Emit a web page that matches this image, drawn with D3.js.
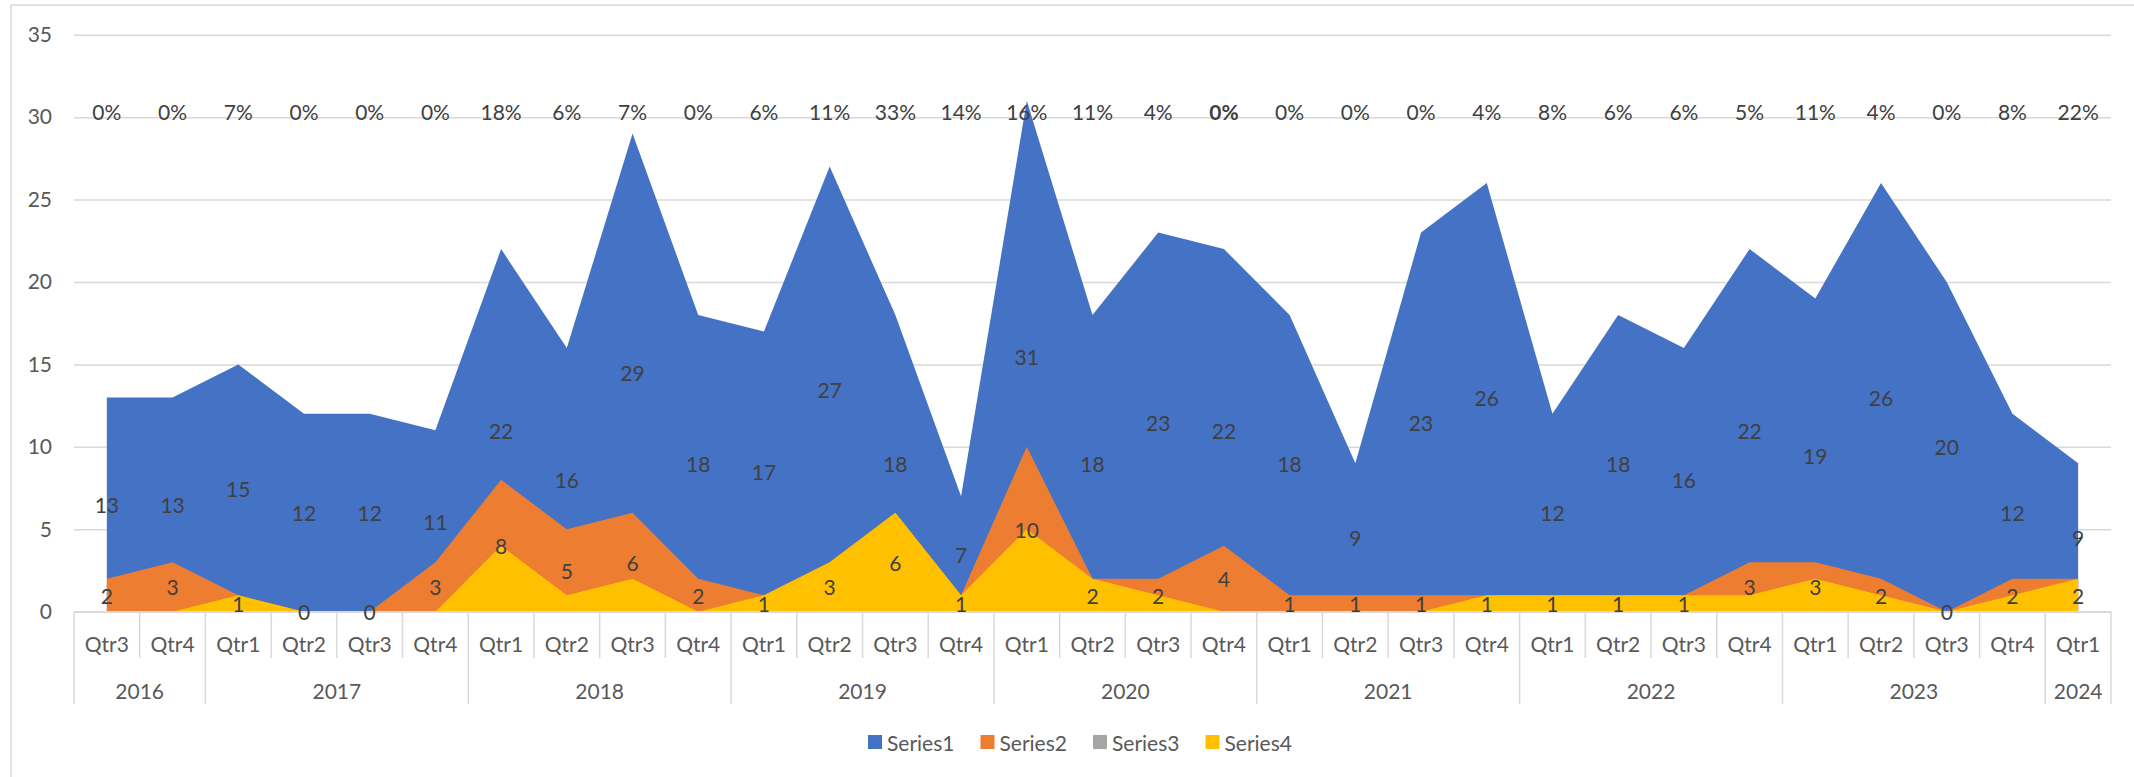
<!DOCTYPE html>
<html>
<head>
<meta charset="utf-8">
<script src="https://cdn.jsdelivr.net/npm/d3@7"></script>
<style>
  html, body { margin: 0; padding: 0; background: #ffffff; }
  svg { display: block; }
  text { font-family: Lato, "Open Sans", sans-serif; }
</style>
</head>
<body>
<svg id="chart" width="2134" height="777"></svg>
<script>
// ---- data ----
const quarters = ["Qtr3","Qtr4",
  "Qtr1","Qtr2","Qtr3","Qtr4",
  "Qtr1","Qtr2","Qtr3","Qtr4",
  "Qtr1","Qtr2","Qtr3","Qtr4",
  "Qtr1","Qtr2","Qtr3","Qtr4",
  "Qtr1","Qtr2","Qtr3","Qtr4",
  "Qtr1","Qtr2","Qtr3","Qtr4",
  "Qtr1","Qtr2","Qtr3","Qtr4",
  "Qtr1"];
const yearLabels = ["2016","2017","2018","2019","2020","2021","2022","2023","2024"];
const yearCounts = [2,4,4,4,4,4,4,4,1];

const series1 = [13,13,15,12,12,11,22,16,29,18,17,27,18,7,31,18,23,22,18,9,23,26,12,18,16,22,19,26,20,12,9];
const series2 = [2,3,1,0,0,3,8,5,6,2,1,3,6,1,10,2,2,4,1,1,1,1,1,1,1,3,3,2,0,2,2];
const series3 = ["0%","0%","7%","0%","0%","0%","18%","6%","7%","0%","6%","11%","33%","14%","16%","11%","4%","0%","0%","0%","0%","4%","8%","6%","6%","5%","11%","4%","0%","8%","22%"];
const series4 = [0,0,1,0,0,0,4,1,2,0,1,3,6,1,5,2,1,0,0,0,0,1,1,1,1,1,2,1,0,1,2];
const boldPercentIndex = [17];

const yTicks = [0,5,10,15,20,25,30,35];
const seriesNames = ["Series1","Series2","Series3","Series4"];
const seriesColors = ["#4472C4","#ED7D31","#A5A5A5","#FFC000"];

// ---- layout ----
const svg = d3.select("#chart");
const plotLeft = 74, plotRight = 2111, plotTop = 34.7, plotBottom = 611.7;
const fs = "21px";

svg.append("rect")
  .attr("x", 11).attr("y", 5).attr("width", 2160).attr("height", 820)
  .attr("fill", "none").attr("stroke", "#d9d9d9").attr("stroke-width", 1.5);

const x = d3.scaleBand().domain(d3.range(quarters.length)).range([plotLeft, plotRight]).paddingInner(0).paddingOuter(0);
const cx = i => x(i) + x.bandwidth() / 2;
const y = d3.scaleLinear().domain([0, 35]).range([plotBottom, plotTop]);

// gridlines + y labels
const yAxis = d3.axisLeft(y).tickValues(yTicks).tickSizeInner(-(plotRight - plotLeft)).tickSizeOuter(0).tickPadding(22);
const gy = svg.append("g").attr("transform", `translate(${plotLeft},0)`).call(yAxis);
gy.select(".domain").remove();
gy.selectAll(".tick line").attr("stroke", "#d9d9d9").attr("stroke-width", 1.5);
gy.selectAll(".tick text").attr("fill", "#595959").style("font-size", fs).style("font-family", "Lato, sans-serif");

// areas
const area = d3.area().x((d, i) => cx(i)).y0(y(0)).y1(d => y(d));
svg.append("path").datum(series1).attr("d", area).attr("fill", seriesColors[0]);
svg.append("path").datum(series2).attr("d", area).attr("fill", seriesColors[1]);
svg.append("path").datum(series4).attr("d", area).attr("fill", seriesColors[3]);

// axis baseline
svg.append("line").attr("x1", plotLeft).attr("x2", plotRight).attr("y1", y(0)).attr("y2", y(0))
  .attr("stroke", "#d9d9d9").attr("stroke-width", 1.5);

// category axis - quarter separators
const qBottom = 658, yrBottom = 704;
const yearStarts = [];
let acc = 0;
yearCounts.forEach(c => { yearStarts.push(acc); acc += c; });
const gx = svg.append("g");
d3.range(quarters.length + 1).forEach(i => {
  const xx = i < quarters.length ? x(i) : plotRight;
  const isYear = yearStarts.includes(i) || i === quarters.length;
  gx.append("line").attr("x1", xx).attr("x2", xx).attr("y1", y(0)).attr("y2", isYear ? yrBottom : qBottom)
    .attr("stroke", "#d9d9d9").attr("stroke-width", 1.5);
});
gx.selectAll("text.q").data(quarters).join("text").attr("class", "q")
  .attr("x", (d, i) => cx(i)).attr("y", 643).attr("text-anchor", "middle").attr("dominant-baseline", "central")
  .attr("fill", "#595959").style("font-size", fs).text(d => d);
gx.selectAll("text.yr").data(yearLabels).join("text").attr("class", "yr")
  .attr("x", (d, i) => { const s = yearStarts[i], e = s + yearCounts[i]; return (x(s) + (e < quarters.length ? x(e) : plotRight)) / 2; })
  .attr("y", 690).attr("text-anchor", "middle").attr("dominant-baseline", "central")
  .attr("fill", "#595959").style("font-size", fs).text(d => d);

// data labels
const lbl = svg.append("g").attr("fill", "#404040").style("font-size", fs).attr("text-anchor", "middle").attr("dominant-baseline", "central");
lbl.selectAll("text.s1").data(series1).join("text").attr("class", "s1")
  .attr("x", (d, i) => cx(i)).attr("y", d => y(d / 2)).text(d => d);
lbl.selectAll("text.s2").data(series2).join("text").attr("class", "s2")
  .attr("x", (d, i) => cx(i)).attr("y", d => y(d / 2)).text(d => d);
lbl.selectAll("text.s3").data(series3).join("text").attr("class", "s3")
  .attr("x", (d, i) => cx(i)).attr("y", y(30.35))
  .style("font-weight", (d, i) => boldPercentIndex.includes(i) ? "bold" : "normal").text(d => d);

// legend
const legend = svg.append("g");
const legX0 = 868, legStep = 112.5, legY = 742;
seriesNames.forEach((n, i) => {
  const g = legend.append("g").attr("transform", `translate(${legX0 + i * legStep},${legY})`);
  g.append("rect").attr("x", 0).attr("y", -7).attr("width", 14).attr("height", 14).attr("fill", seriesColors[i]);
  g.append("text").attr("x", 19).attr("y", 0).attr("dominant-baseline", "central").attr("fill", "#595959")
    .style("font-size", fs).text(n);
});
</script>
</body>
</html>
